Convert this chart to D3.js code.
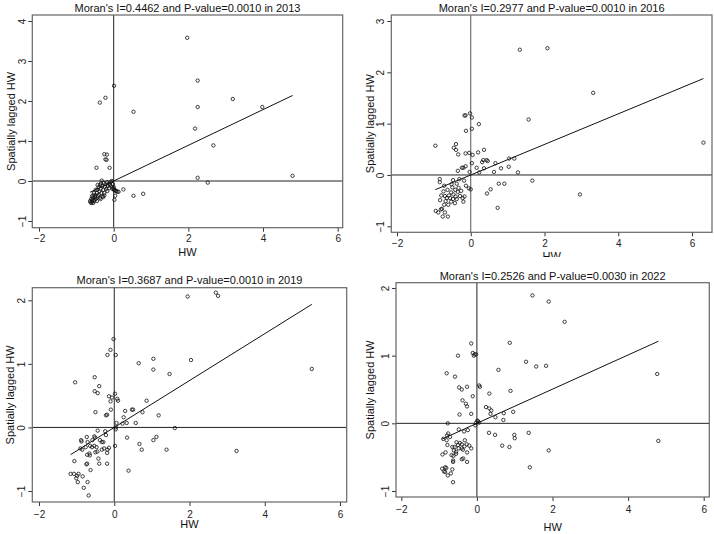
<!DOCTYPE html>
<html>
<head>
<meta charset="utf-8">
<script src="https://cdn.jsdelivr.net/npm/d3@7"></script>
<style>
  body { margin: 0; background: #fff; }
  svg { display: block; font-family: "Liberation Sans", Arial, sans-serif; }
</style>
</head>
<body>
<div id="chart"></div>
<script>
// data
const years = [2013, 2016, 2019, 2022];
const moranI = [0.4462, 0.2977, 0.3687, 0.2526];
const pValues = ["0.0010", "0.0010", "0.0010", "0.0030"];
const xTicks = [-2, 0, 2, 4, 6];
const yTicks = [[-1, 0, 1, 2, 3, 4], [-1, 0, 1, 2, 3], [-1, 0, 1, 2], [-1, 0, 1, 2]];

// [HW, spatially lagged HW]
const pts2013 = [
  [1.97, 3.58], [0.01, 2.38], [-0.37, 1.96], [-0.22, 2.08], [0.53, 1.73], [2.25, 2.51],
  [3.19, 2.05], [2.25, 1.85], [3.98, 1.85], [2.18, 1.31], [2.67, 0.89], [2.25, 0.08],
  [2.52, -0.04], [4.79, 0.13], [-0.25, 0.67], [-0.18, 0.66], [-0.22, 0.54], [-0.19, 0.53],
  [-0.46, 0.33], [-0.11, 0.33], [0.53, -0.37], [0.79, -0.32], [0.26, -0.21], [0.13, -0.27],
  [0.02, -0.47], [0.04, -0.37], [-0.01, -0.18], [0.01, -0.22], [0.1, -0.27], [0.07, -0.25],
  [-0.62, -0.53], [-0.6, -0.55], [-0.58, -0.52], [-0.63, -0.5], [-0.57, -0.48], [-0.55, -0.55],
  [-0.6, -0.45], [-0.56, -0.42], [-0.58, -0.38], [-0.54, -0.35], [-0.52, -0.5], [-0.5, -0.46],
  [-0.53, -0.3], [-0.5, -0.4], [-0.48, -0.36], [-0.47, -0.44], [-0.45, -0.3], [-0.44, -0.22],
  [-0.42, -0.38], [-0.4, -0.34], [-0.4, -0.15], [-0.38, -0.26], [-0.37, -0.42], [-0.36, -0.1],
  [-0.35, -0.2], [-0.34, -0.06], [-0.33, -0.3], [-0.32, 0.01], [-0.3, -0.12], [-0.3, -0.38],
  [-0.28, -0.22], [-0.27, -0.05], [-0.25, -0.3], [-0.23, -0.15], [-0.22, -0.08], [-0.2, -0.2],
  [-0.18, -0.03], [-0.17, -0.25], [-0.15, -0.12], [-0.13, -0.07], [-0.12, -0.18], [-0.1, -0.1],
  [-0.08, -0.02], [-0.06, -0.14], [-0.05, 0.0], [-0.03, -0.2], [-0.02, -0.08], [0.0, -0.15],
  [0.03, -0.22], [0.05, -0.25], [-0.45, -0.5], [-0.43, -0.1], [-0.48, -0.22], [-0.35, -0.45],
  [-0.28, -0.4], [-0.25, -0.36]
];

const pts2016 = [
  [1.33, 2.44], [2.08, 2.47], [3.32, 1.6], [1.57, 1.08], [6.31, 0.63], [2.96, -0.38],
  [1.67, -0.11], [0.73, -0.64], [-0.96, 0.57], [-0.02, 1.2], [-0.17, 1.16], [-0.14, 1.16],
  [0.03, 1.12], [0.22, 0.99], [0.03, 0.9], [-0.13, 0.86], [-0.4, 0.6], [-0.46, 0.53],
  [-0.4, 0.49], [-0.34, 0.4], [-0.14, 0.42], [-0.04, 0.43], [0.05, 0.39], [0.2, 0.44],
  [0.36, 0.49], [0.31, 0.25], [0.34, 0.29], [0.43, 0.29], [0.46, 0.27], [0.03, 0.23],
  [-0.14, 0.17], [-0.24, 0.14], [-0.2, 0.14], [-0.35, 0.08], [0.16, 0.14], [0.36, 0.13],
  [0.23, 0.05], [-0.03, 0.06], [0.67, 0.23], [1.04, 0.32], [1.18, 0.32], [1.03, 0.16],
  [0.82, 0.13], [0.63, 0.06], [1.28, 0.05], [0.76, -0.17], [0.91, -0.17], [0.54, -0.28],
  [0.44, -0.36], [-0.05, -0.26], [0.0, -0.28], [-0.13, -0.21], [-0.18, -0.11],
  [-0.84, -0.08], [-0.84, -0.14], [-0.72, -0.21], [-0.48, -0.1], [-0.38, -0.17], [-0.31, -0.08],
  [-0.52, -0.18], [-0.83, -0.49], [-0.8, -0.4], [-0.7, -0.41], [-0.65, -0.45], [-0.59, -0.4],
  [-0.53, -0.34], [-0.47, -0.38], [-0.41, -0.42], [-0.35, -0.33], [-0.29, -0.41], [-0.22, -0.45],
  [-0.2, -0.52], [-0.43, -0.55], [-0.53, -0.52], [-0.61, -0.58], [-0.72, -0.58], [-0.95, -0.7],
  [-0.88, -0.73], [-0.81, -0.67], [-0.78, -0.66], [-0.7, -0.73], [-0.76, -0.81], [-0.62, -0.81],
  [-0.74, -0.32], [-0.63, -0.29], [-0.5, -0.24], [-0.42, -0.29], [-0.33, -0.25], [-0.26, -0.31],
  [-0.56, -0.45], [-0.48, -0.47], [-0.68, -0.51], [-0.38, -0.47], [-0.17, -0.42]
];

const pts2019 = [
  [1.95, 2.06], [2.7, 2.12], [2.76, 2.07], [5.25, 0.92], [3.25, -0.37], [-0.02, 1.39],
  [-0.1, 1.22], [-0.18, 1.14], [0.04, 1.14], [0.65, 1.01], [1.04, 1.08], [2.04, 1.06],
  [1.04, 0.91], [1.47, 0.84], [-1.04, 0.71], [-0.52, 0.79], [-0.4, 0.65], [-0.52, 0.57],
  [-0.44, 0.54], [-0.14, 0.49], [0.02, 0.53], [0.08, 0.45], [0.1, 0.42], [-0.06, 0.47],
  [-0.1, 0.41], [0.86, 0.42], [-0.5, 0.24], [-0.09, 0.28], [0.29, 0.26], [0.47, 0.28],
  [0.5, 0.28], [0.75, 0.24], [1.18, 0.19], [-0.19, 0.2], [-0.22, 0.19], [0.25, 0.16],
  [0.06, 0.07], [0.33, 0.07], [0.22, 0.06], [0.57, 0.07], [0.04, -0.03], [0.04, 0.0],
  [1.61, -0.01], [0.02, -0.29], [0.34, -0.16], [0.67, -0.26], [0.73, -0.35], [1.04, -0.2],
  [1.12, -0.15], [1.39, -0.35], [0.38, -0.68], [-0.44, -0.05], [-0.24, -0.06], [-0.22, -0.12],
  [-0.19, -0.4], [-0.19, -0.57], [-0.87, -0.22], [-0.88, -0.2], [-0.9, -0.33], [-0.85, -0.35],
  [-0.76, -0.31], [-0.71, -0.23], [-0.64, -0.29], [-0.59, -0.31], [-0.53, -0.29], [-0.47, -0.31],
  [-0.53, -0.14], [-0.72, -0.43], [-0.66, -0.41], [-0.65, -0.44], [-0.5, -0.39], [-0.45, -0.38],
  [-0.42, -0.49], [-0.4, -0.57], [-0.38, -0.2], [-0.33, -0.23], [-0.29, -0.23], [-0.33, -0.35],
  [-0.27, -0.33], [-0.18, -0.35], [-0.14, -0.32], [-0.74, -0.58], [-0.72, -0.57], [-1.06, -0.53],
  [-1.16, -0.73], [-1.07, -0.73], [-1.01, -0.8], [-0.95, -0.73], [-0.97, -0.86], [-0.84, -0.77],
  [-0.71, -0.86], [-0.81, -0.95], [-0.68, -1.07], [-0.63, -0.67], [-0.99, -0.76], [-0.58, -0.2],
  [-0.51, -0.16], [-0.73, -0.15]
];

const pts2022 = [
  [1.47, 1.89], [1.9, 1.8], [2.32, 1.5], [4.77, 0.73], [4.8, -0.26], [0.87, 1.19],
  [1.3, 0.91], [1.57, 0.84], [1.83, 0.85], [0.57, 0.79], [0.89, 0.48], [0.33, 0.44],
  [-0.15, 1.18], [-0.11, 1.04], [-0.06, 1.02], [-0.02, 1.02], [-0.08, 1.0], [-0.5, 1.0],
  [-0.8, 0.74], [-0.58, 0.69], [-0.47, 0.53], [-0.4, 0.5], [-0.26, 0.54], [-0.11, 0.4],
  [0.06, 0.56], [0.08, 0.54], [-0.38, 0.34], [-0.29, 0.29], [-0.26, 0.25], [-0.46, 0.13],
  [-0.15, 0.14], [0.24, 0.24], [0.33, 0.22], [0.38, 0.19], [0.36, 0.14], [0.71, 0.15],
  [0.96, 0.17], [0.49, 0.09], [0.7, 0.05], [0.01, 0.04], [0.03, 0.03], [-0.02, 0.01],
  [0.06, 0.01], [-0.04, -0.03], [-0.77, 0.0], [0.32, -0.14], [0.48, -0.17], [0.99, -0.17],
  [1.0, -0.22], [1.37, -0.14], [0.67, -0.33], [0.86, -0.35], [1.9, -0.4], [1.4, -0.65],
  [-0.48, -0.09], [-0.24, -0.1], [-0.34, -0.12], [-0.89, -0.23], [-0.79, -0.18], [-0.76, -0.15],
  [-0.71, -0.2], [-0.8, -0.25], [-0.78, -0.32], [-0.91, -0.46], [-0.83, -0.43], [-0.65, -0.35],
  [-0.59, -0.35], [-0.61, -0.4], [-0.54, -0.28], [-0.5, -0.32], [-0.45, -0.29], [-0.4, -0.31],
  [-0.32, -0.25], [-0.27, -0.31], [-0.2, -0.33], [-0.15, -0.37], [-0.37, -0.39], [-0.4, -0.53],
  [-0.36, -0.52], [-0.26, -0.43], [-0.26, -0.57], [-0.48, -0.37], [-0.55, -0.42], [-0.55, -0.45],
  [-0.67, -0.47], [-0.62, -0.48], [-0.63, -0.55], [-0.63, -0.57], [-0.92, -0.67], [-0.84, -0.65],
  [-0.81, -0.66], [-0.87, -0.71], [-0.84, -0.72], [-0.77, -0.77], [-0.69, -0.74], [-0.65, -0.68],
  [-0.63, -0.87], [-0.4, -0.37], [-0.33, -0.34]
];

const points = [pts2013, pts2016, pts2019, pts2022];

// pixel layout of each panel
const layout = [
  { x: [39, 337.7], y: [-1, 221, 4, 21], frame: [32.3, 15, 342.7, 227.7], titleY: 11.5, tickY: 242.5, hwY: 255.7, yTickX: 26, yLabX: 15, clip: null },
  { x: [397, 692], y: [-1, 226.3, 3, 21], frame: [391.3, 15, 712, 232.3], titleY: 11.5, tickY: 247.5, hwY: 260, yTickX: 383.8, yLabX: 374, clip: 257 },
  { x: [39, 340], y: [-1, 491, 2, 300.3], frame: [32.3, 287.7, 346.7, 502], titleY: 283.7, tickY: 517.5, hwY: 528, yTickX: 25.2, yLabX: 14, clip: null },
  { x: [401.3, 703.7], y: [-1, 491, 2, 288], frame: [396, 282.7, 709.3, 497], titleY: 280, tickY: 512.5, hwY: 531, yTickX: 388.8, yLabX: 374, clip: null }
];

const svg = d3.select("#chart").append("svg")
  .attr("width", 714)
  .attr("height", 534);

svg.append("rect").attr("width", 714).attr("height", 534).attr("fill", "#fff");

years.forEach((year, i) => {
  const L = layout[i];
  const [fl, ft, fr, fb] = L.frame;
  const data = points[i];

  const x = d3.scaleLinear().domain([-2, 6]).range(L.x);
  const y = d3.scaleLinear().domain([L.y[0], L.y[2]]).range([L.y[1], L.y[3]]);

  const g = svg.append("g");

  // title
  g.append("text")
    .attr("x", (fl + fr) / 2)
    .attr("y", L.titleY)
    .attr("text-anchor", "middle")
    .style("font-size", "11px")
    .style("fill", "#111")
    .text(`Moran's I=${moranI[i].toFixed(4)} and P-value=${pValues[i]} in ${year}`);

  // x axis
  const xAxis = g.append("g")
    .attr("transform", `translate(0, ${fb})`)
    .call(d3.axisBottom(x).tickValues(xTicks).tickSize(4).tickFormat(d3.format("d")));
  xAxis.select(".domain").remove();
  xAxis.selectAll(".tick line").attr("stroke", "#333");
  xAxis.selectAll(".tick text")
    .attr("y", L.tickY - fb)
    .attr("dy", null)
    .style("font-size", "10px")
    .style("font-family", "Liberation Sans, Arial, sans-serif")
    .style("fill", "#222");

  // y axis with rotated labels
  const yAxis = g.append("g")
    .attr("transform", `translate(${fl}, 0)`)
    .call(d3.axisLeft(y).tickValues(yTicks[i]).tickSize(4).tickFormat(d3.format("d")));
  yAxis.select(".domain").remove();
  yAxis.selectAll(".tick line").attr("stroke", "#333");
  yAxis.selectAll(".tick text")
    .attr("x", L.yTickX - fl)
    .attr("dy", null)
    .attr("transform", `rotate(-90, ${L.yTickX - fl}, 0)`)
    .attr("text-anchor", "middle")
    .style("font-size", "10px")
    .style("font-family", "Liberation Sans, Arial, sans-serif")
    .style("fill", "#222");

  // axis titles
  const hw = g.append("text")
    .attr("x", (fl + fr) / 2)
    .attr("y", L.hwY)
    .attr("text-anchor", "middle")
    .style("font-size", "11px")
    .style("fill", "#111")
    .text("HW");
  if (L.clip) {
    const id = "clip" + i;
    svg.append("clipPath").attr("id", id)
      .append("rect").attr("x", fl).attr("y", fb).attr("width", fr - fl).attr("height", L.clip - fb);
    hw.attr("clip-path", `url(#${id})`);
  }

  const cy = (ft + fb) / 2;
  g.append("text")
    .attr("transform", `translate(${L.yLabX}, ${cy}) rotate(-90)`)
    .attr("text-anchor", "middle")
    .style("font-size", "11px")
    .style("fill", "#111")
    .text("Spatially lagged HW");

  // reference lines through zero
  g.append("line")
    .attr("x1", x(0)).attr("x2", x(0))
    .attr("y1", ft).attr("y2", fb)
    .attr("stroke", i === 1 ? "#555" : "#222")
    .attr("stroke-width", 1);
  g.append("line")
    .attr("x1", fl).attr("x2", fr)
    .attr("y1", y(0)).attr("y2", y(0))
    .attr("stroke", "#222")
    .attr("stroke-width", 1);

  // fitted line, slope = Moran's I
  const [xmin, xmax] = d3.extent(data, d => d[0]);
  g.append("line")
    .attr("x1", x(xmin)).attr("y1", y(moranI[i] * xmin))
    .attr("x2", x(xmax)).attr("y2", y(moranI[i] * xmax))
    .attr("stroke", "#111")
    .attr("stroke-width", 1);

  // points
  g.selectAll(".pt")
    .data(data)
    .enter()
    .append("circle")
    .attr("class", "pt")
    .attr("cx", d => x(d[0]))
    .attr("cy", d => y(d[1]))
    .attr("r", 1.7)
    .attr("fill", "none")
    .attr("stroke", "#111")
    .attr("stroke-width", 0.8);

  // frame
  g.append("rect")
    .attr("x", fl).attr("y", ft)
    .attr("width", fr - fl).attr("height", fb - ft)
    .attr("fill", "none")
    .attr("stroke", "#666")
    .attr("stroke-width", 1.2);
});
</script>
</body>
</html>
